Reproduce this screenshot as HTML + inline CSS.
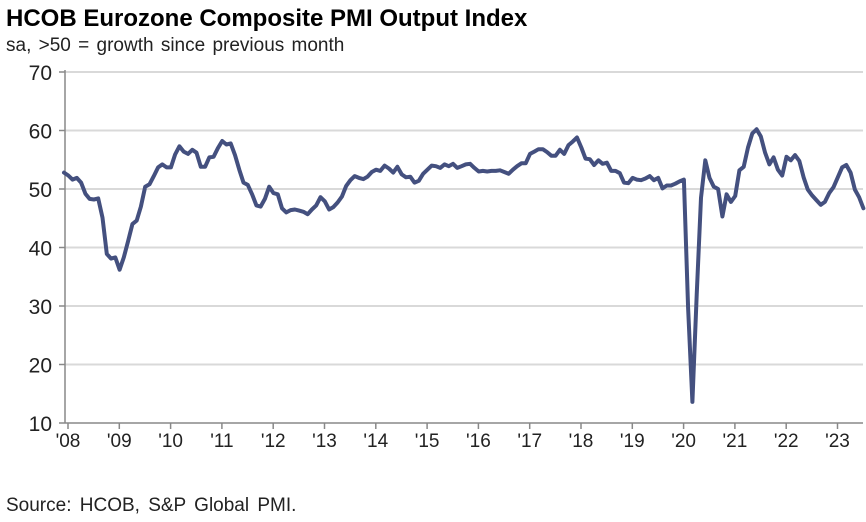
<!DOCTYPE html>
<html><head><meta charset="utf-8"><style>
body{margin:0;background:#fff;width:866px;height:522px;overflow:hidden;font-family:"Liberation Sans",sans-serif}
svg{display:block}
</style></head><body>
<svg id="c" width="866" height="522">
<text x="6" y="26" font-size="24" font-weight="bold" fill="#000">HCOB Eurozone Composite PMI Output Index</text>
<text x="6" y="51" font-size="19" fill="#222" word-spacing="2">sa, &gt;50 = growth  since previous month</text>
<text x="6" y="511" font-size="19" fill="#222" word-spacing="3">Source: HCOB, S&amp;P Global PMI.</text>
<g id="grid"></g><g id="axes"></g><g id="series"></g>
</svg>
<script>
const yTicks=[10,20,30,40,50,60,70];
const xLabels=["'08","'09","'10","'11","'12","'13","'14","'15","'16","'17","'18","'19","'20","'21","'22","'23"];
const startYear=2008;
const pmiValues=[
52.8,52.3,51.6,51.9,51.1,49.2,48.3,48.2,48.4,45.1,38.9,38.1,
38.3,36.2,38.3,41.1,44.0,44.6,47.0,50.4,50.8,52.2,53.7,54.2,
53.7,53.7,55.9,57.3,56.4,56.0,56.7,56.2,53.8,53.8,55.4,55.5,
57.0,58.2,57.6,57.8,55.8,53.3,51.1,50.7,49.1,47.2,47.0,48.3,
50.4,49.3,49.1,46.7,46.0,46.4,46.5,46.3,46.1,45.7,46.5,47.2,
48.6,47.9,46.5,46.9,47.7,48.7,50.5,51.5,52.2,51.9,51.7,52.1,
52.9,53.3,53.1,54.0,53.5,52.8,53.8,52.5,52.0,52.1,51.1,51.4,
52.6,53.3,54.0,53.9,53.6,54.2,53.9,54.3,53.6,53.9,54.2,54.3,
53.6,53.0,53.1,53.0,53.1,53.1,53.2,52.9,52.6,53.3,53.9,54.4,
54.4,56.0,56.4,56.8,56.8,56.3,55.7,55.7,56.7,56.0,57.5,58.1,
58.8,57.1,55.2,55.1,54.1,54.9,54.3,54.5,53.1,53.1,52.7,51.1,
51.0,51.9,51.6,51.5,51.8,52.2,51.5,51.9,50.1,50.6,50.6,50.9,
51.3,51.6,29.7,13.6,31.9,48.5,54.9,51.9,50.4,50.0,45.3,49.1,
47.8,48.8,53.2,53.8,57.1,59.5,60.2,59.0,56.2,54.2,55.4,53.3,
52.3,55.5,54.9,55.8,54.8,52.0,49.9,48.9,48.1,47.3,47.8,49.3,
50.3,52.0,53.7,54.1,52.8,49.9,48.6,46.7];
const NS="http://www.w3.org/2000/svg";
const X0=68,PXY=51.3,Y10=423,PXU=5.85,XR=863,DATA_OFF=-4;
function xs(monthIdx){return X0+PXY*monthIdx/12;}
function ys(v){return Y10-(v-10)*PXU;}
function mk(tag,attrs,parent){const e=document.createElementNS(NS,tag);for(const k in attrs)e.setAttribute(k,attrs[k]);parent.appendChild(e);return e;}
const grid=document.getElementById('grid'),axes=document.getElementById('axes'),series=document.getElementById('series');
yTicks.forEach(t=>{
  if(t>10){const g=mk('line',{x1:65,x2:XR,y1:ys(t),y2:ys(t),stroke:'#d9d9d9','stroke-width':2},grid);
  
  }
  mk('line',{x1:59,x2:65,y1:ys(t),y2:ys(t),stroke:'#888','stroke-width':1.5},axes);
  const l=mk('text',{x:52,y:ys(t)+8,'font-size':21,'text-anchor':'end',fill:'#222'},axes);
  l.textContent=t;
  
  
});
const ya=mk('line',{x1:65,x2:65,y1:ys(70)-2,y2:ys(10),stroke:'#888','stroke-width':1.5},axes);


const xa=mk('line',{x1:65,x2:XR,y1:ys(10),y2:ys(10),stroke:'#888','stroke-width':1.5},axes);


xLabels.forEach((lab,i)=>{
  const x=xs(i*12);
  mk('line',{x1:x,x2:x,y1:ys(10),y2:ys(10)+6,stroke:'#888','stroke-width':1.5},axes);
  const t=mk('text',{x:x,y:447,'font-size':19,'text-anchor':'middle',fill:'#222'},axes);
  t.textContent=lab;
  
  
});
const pts=pmiValues.map((v,i)=>(xs(i)+DATA_OFF).toFixed(1)+','+ys(v).toFixed(1)).join(' ');
const line=mk('polyline',{points:pts,fill:'none',stroke:'#44507f','stroke-width':4,'stroke-linejoin':'round','stroke-linecap':'round'},series);


</script>
</body></html>
